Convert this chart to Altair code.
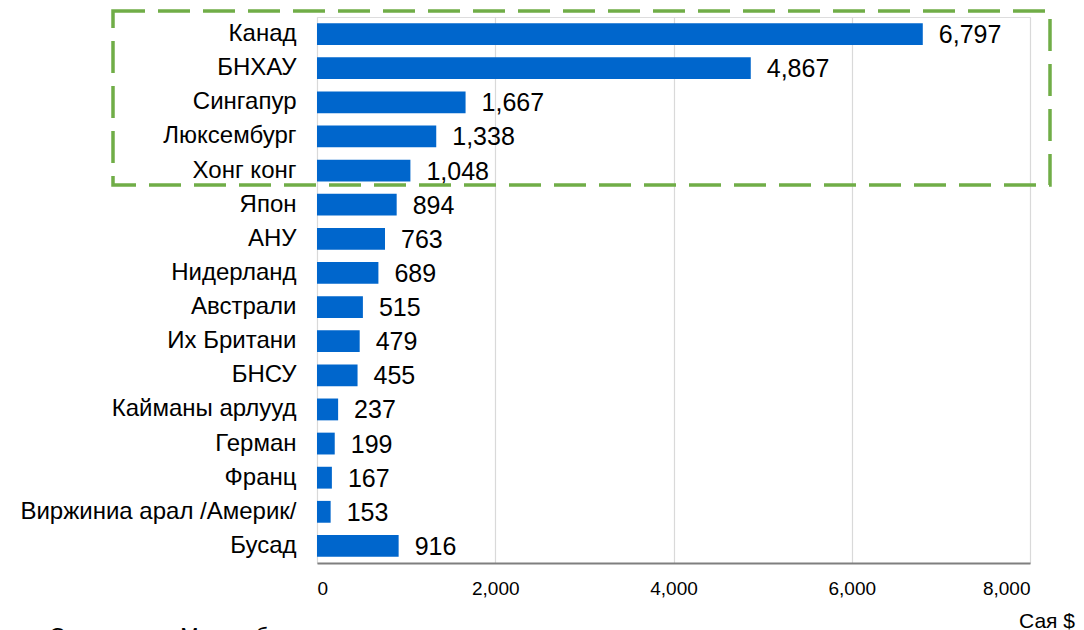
import altair as alt
import pandas as pd

countries = ["Канад", "БНХАУ", "Сингапур", "Люксембург", "Хонг конг", "Япон", "АНУ",
             "Нидерланд", "Австрали", "Их Британи", "БНСУ", "Кайманы арлууд", "Герман",
             "Франц", "Виржиниа арал /Америк/", "Бусад"]
values = [6797, 4867, 1667, 1338, 1048, 894, 763, 689, 515, 479, 455, 237, 199, 167, 153, 916]
x_ticks = [0, 2000, 4000, 6000, 8000]

df = pd.DataFrame({"country": countries, "value": values})

FONT = "Liberation Sans"

x_enc = alt.X("value:Q", scale=alt.Scale(domain=[0, 8000], nice=False),
              axis=alt.Axis(values=x_ticks, format=",.0f", title=None, ticks=False,
                            domainColor="#7f7f7f", domainWidth=2,
                            gridColor="#d9d9d9", gridWidth=1.2,
                            labelFont=FONT, labelFontSize=19, labelColor="#000000",
                            labelPadding=16))
y_enc = alt.Y("country:N", sort=countries, scale=alt.Scale(paddingInner=0.36, paddingOuter=0.18),
              axis=alt.Axis(title=None, ticks=False, domain=False, labelFont=FONT,
                            labelFontSize=24, labelColor="#000000", labelPadding=21,
                            labelLimit=400))

base = alt.Chart(df)
bars = base.mark_bar(color="#0066cc").encode(x=x_enc, y=y_enc)
labels = base.mark_text(align="left", baseline="middle", dx=16, dy=1, font=FONT,
                        fontSize=25, color="#000000").encode(
    x="value:Q", y=alt.Y("country:N", sort=countries), text=alt.Text("value:Q", format=","))

box = alt.Chart(pd.DataFrame({"k": [0]})).mark_rect(
    filled=False, stroke="#70ad47", strokeWidth=3.5, strokeDash=[32, 13]).encode(
    x=alt.value(-204), x2=alt.value(733), y=alt.value(-6), y2=alt.value(168))

unit = alt.Chart(pd.DataFrame({"t": ["Сая $"]})).mark_text(
    align="right", baseline="alphabetic", font=FONT, fontSize=21, color="#000000").encode(
    x=alt.value(758), y=alt.value(611), text="t:N")

source = alt.Chart(pd.DataFrame({"t": ["Эх сурвалж: Монголбанк"]})).mark_text(
    align="left", baseline="alphabetic", font=FONT, fontSize=22, color="#000000").encode(
    x=alt.value(-267), y=alt.value(626), text="t:N")

chart = alt.layer(bars, labels, box, unit, source).properties(
    width=713, height=546,
    autosize=alt.AutoSizeParams(type="none"),
    padding={"left": 309, "top": 9, "right": 46, "bottom": 100},
).configure_view(stroke=None).configure(background="#ffffff")

chart.save("out.html", embed_options={"renderer": "svg", "actions": False})
